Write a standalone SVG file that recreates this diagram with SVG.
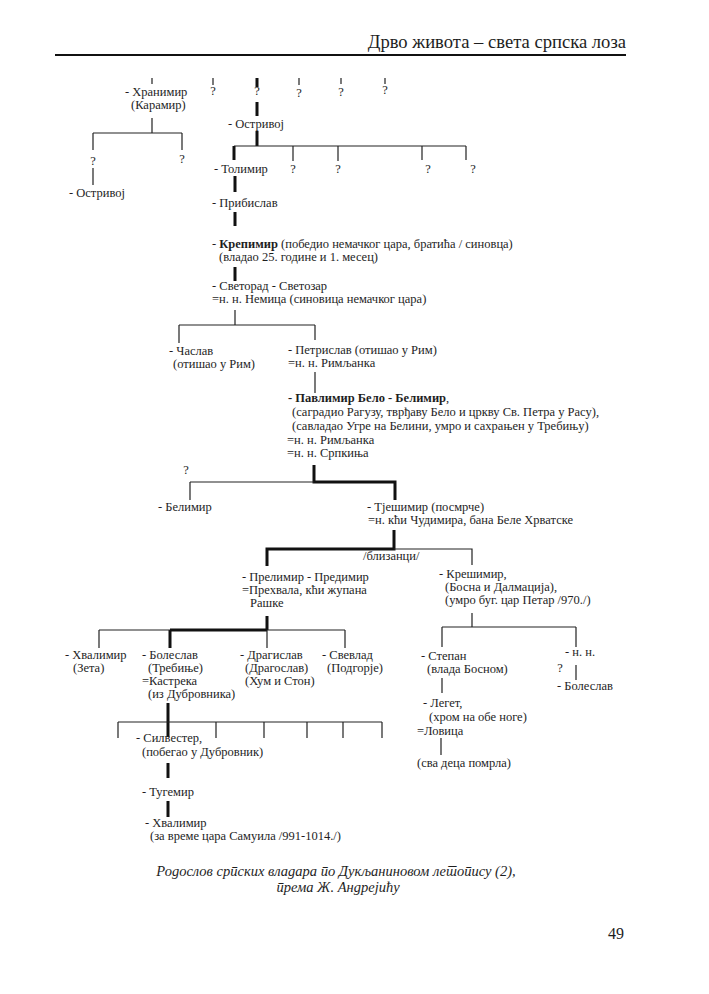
<svg xmlns="http://www.w3.org/2000/svg" width="709" height="994" viewBox="0 0 709 994">
<style>
.t{font-family:"Liberation Serif","Times New Roman",serif;font-size:12.5px;fill:#1e1e1e}
.b{font-weight:bold}
.m{text-anchor:middle}
.hd{font-family:"Liberation Serif",serif;font-size:18.6px;fill:#1e1e1e}
.cap{font-family:"Liberation Serif",serif;font-size:14.5px;font-style:italic;fill:#1e1e1e;text-anchor:middle}
.n{stroke:#222;stroke-width:1.2;fill:none}
.k{stroke:#111;stroke-width:3;fill:none}
</style>
<rect width="709" height="994" fill="#fff"/>
<g id="header">
<text class="hd" x="626" y="48" text-anchor="end">Дрво живота – света српска лоза</text>
<line x1="55" y1="55" x2="626" y2="55" stroke="#111" stroke-width="2"/>
</g>
<g id="connectors">
<path class="n" d="M152 78V84M213 78V85M299 78V85M341 78V84M385 78V84"/>
<path class="k" d="M257 78V87M257 102V116M257 131V146"/>
<path class="n" d="M234 146H466M293 146V161M338 146V161M422 146V160M466 146V160"/>
<path class="k" d="M234 146V160"/>
<path class="n" d="M152 118V133M93 133H182M93 133V150M182 133V150M93 168V185"/>
<path class="k" d="M235 176V192M235 212V226M235 267V281"/>
<path class="n" d="M235 310V325M179 325H315M179 325V343M315 325V340M315 372V393"/>
<path class="k" d="M314 465V482H395V500"/>
<path class="n" d="M190 482H314M190 482V500"/>
<path class="k" d="M394 530V549H267V566"/>
<path class="n" d="M394 549H472V565"/>
<path class="k" d="M267 616V630M170 630H267M170 630V648"/>
<path class="n" d="M99 630H170M267 630H345M99 630V648M267 630V648M345 630V648"/>
<path class="n" d="M472 613V627M442 627H576M442 627V647M576 627V647M576 665V680M442 678V693M441 738V755"/>
<path class="k" d="M168 703V737M168 763V778M168 801V817"/>
<path class="n" d="M118 722H382M118 722V738M216 722V738M264 722V738M307 722V738M343 722V738M382 722V738"/>
</g>
<g id="n-hranimir"><text class="t" x="125" y="96">- Хранимир</text><text class="t" x="131" y="109">(Карамир)</text></g>
<g id="n-q1"><text class="t m" x="213" y="95">?</text></g>
<g id="n-q2"><text class="t m" x="257" y="95">?</text></g>
<g id="n-q3"><text class="t m" x="299" y="97">?</text></g>
<g id="n-q4"><text class="t m" x="341" y="96">?</text></g>
<g id="n-q5"><text class="t m" x="385" y="94">?</text></g>
<g id="n-ostrivoj"><text class="t" x="228" y="128">- Остривој</text></g>
<g id="n-q6"><text class="t m" x="93" y="165">?</text></g>
<g id="n-q7"><text class="t m" x="182" y="163">?</text></g>
<g id="n-ostrivoj2"><text class="t" x="69" y="197">- Остривој</text></g>
<g id="n-tolimir"><text class="t" x="214" y="173">- Толимир</text></g>
<g id="n-q8"><text class="t m" x="293" y="173">?</text></g>
<g id="n-q9"><text class="t m" x="338" y="173">?</text></g>
<g id="n-q10"><text class="t m" x="428" y="173">?</text></g>
<g id="n-q11"><text class="t m" x="473" y="173">?</text></g>
<g id="n-pribislav"><text class="t" x="212" y="207">- Прибислав</text></g>
<g id="n-krepimir"><text class="t" x="212" y="248">- <tspan class="b">Крепимир</tspan> (победио немачког цара, братића / синовца)</text><text class="t" x="219" y="261">(владао 25. године и 1. месец)</text></g>
<g id="n-svetorad"><text class="t" x="212" y="290">- Светорад - Светозар</text><text class="t" x="212" y="303">=н. н. Немица (синовица немачког цара)</text></g>
<g id="n-caslav"><text class="t" x="169" y="355">- Часлав</text><text class="t" x="173" y="368">(отишао у Рим)</text></g>
<g id="n-petrislav"><text class="t" x="288" y="354">- Петрислав (отишао у Рим)</text><text class="t" x="288" y="367">=н. н. Римљанка</text></g>
<g id="n-pavlimir"><text class="t" x="288" y="402"><tspan class="b">- Павлимир Бело - Белимир</tspan>,</text><text class="t" x="292" y="416">(саградио Рагузу, тврђаву Бело и цркву Св. Петра у Расу),</text><text class="t" x="292" y="430">(савладао Угре на Белини, умро и сахрањен у Требињу)</text><text class="t" x="287" y="444">=н. н. Римљанка</text><text class="t" x="287" y="457">=н. н. Српкиња</text></g>
<g id="n-q12"><text class="t m" x="186" y="474">?</text></g>
<g id="n-belimir"><text class="t" x="158" y="511">- Белимир</text></g>
<g id="n-tjesimir"><text class="t" x="367" y="511">- Тјешимир (посмрче)</text><text class="t" x="368" y="524">=н. кћи Чудимира, бана Беле Хрватске</text></g>
<g id="n-blizanci"><text class="t" x="363" y="560">/близанци/</text></g>
<g id="n-prelimir"><text class="t" x="242" y="581">- Прелимир - Предимир</text><text class="t" x="242" y="594">=Прехвала, кћи жупана</text><text class="t" x="250" y="607">Рашке</text></g>
<g id="n-kresimir"><text class="t" x="439" y="578">- Крешимир,</text><text class="t" x="445" y="591">(Босна и Далмација),</text><text class="t" x="445" y="604">(умро буг. цар Петар /970./)</text></g>
<g id="n-hvalimir"><text class="t" x="65" y="659">- Хвалимир</text><text class="t" x="73" y="672">(Зета)</text></g>
<g id="n-boleslav"><text class="t" x="142" y="659">- Болеслав</text><text class="t" x="148" y="672">(Требиње)</text><text class="t" x="142" y="685">=Кастрека</text><text class="t" x="148" y="698">(из Дубровника)</text></g>
<g id="n-dragislav"><text class="t" x="240" y="659">- Драгислав</text><text class="t" x="245" y="672">(Драгослав)</text><text class="t" x="245" y="685">(Хум и Стон)</text></g>
<g id="n-svevlad"><text class="t" x="322" y="659">- Свевлад</text><text class="t" x="327" y="672">(Подгорје)</text></g>
<g id="n-stepan"><text class="t" x="421" y="660">- Степан</text><text class="t" x="427" y="673">(влада Босном)</text></g>
<g id="n-nn"><text class="t" x="565" y="656">- н. н.</text></g>
<g id="n-q13"><text class="t m" x="560" y="672">?</text></g>
<g id="n-boleslav2"><text class="t" x="557" y="690">- Болеслав</text></g>
<g id="n-leget"><text class="t" x="423" y="707">- Легет,</text><text class="t" x="429" y="721">(хром на обе ноге)</text><text class="t" x="417" y="735">=Ловица</text></g>
<g id="n-sva"><text class="t" x="417" y="767">(сва деца помрла)</text></g>
<g id="n-silvestar"><text class="t" x="136" y="742">- Силвестер,</text><text class="t" x="142" y="756">(побегао у Дубровник)</text></g>
<g id="n-tugemir"><text class="t" x="142" y="796">- Тугемир</text></g>
<g id="n-hvalimir2"><text class="t" x="145" y="827">- Хвалимир</text><text class="t" x="150" y="840">(за време цара Самуила /991-1014./)</text></g>
<g id="caption"><text class="cap" x="336" y="876" xml:lang="sr">Родослов српских владара по Дукљаниновом летопису (2),</text><text class="cap" x="338" y="892" xml:lang="sr">према Ж. Андрејићу</text></g>
<g id="page"><text class="hd" x="616" y="939" text-anchor="middle" style="font-size:16px">49</text></g>
</svg>
